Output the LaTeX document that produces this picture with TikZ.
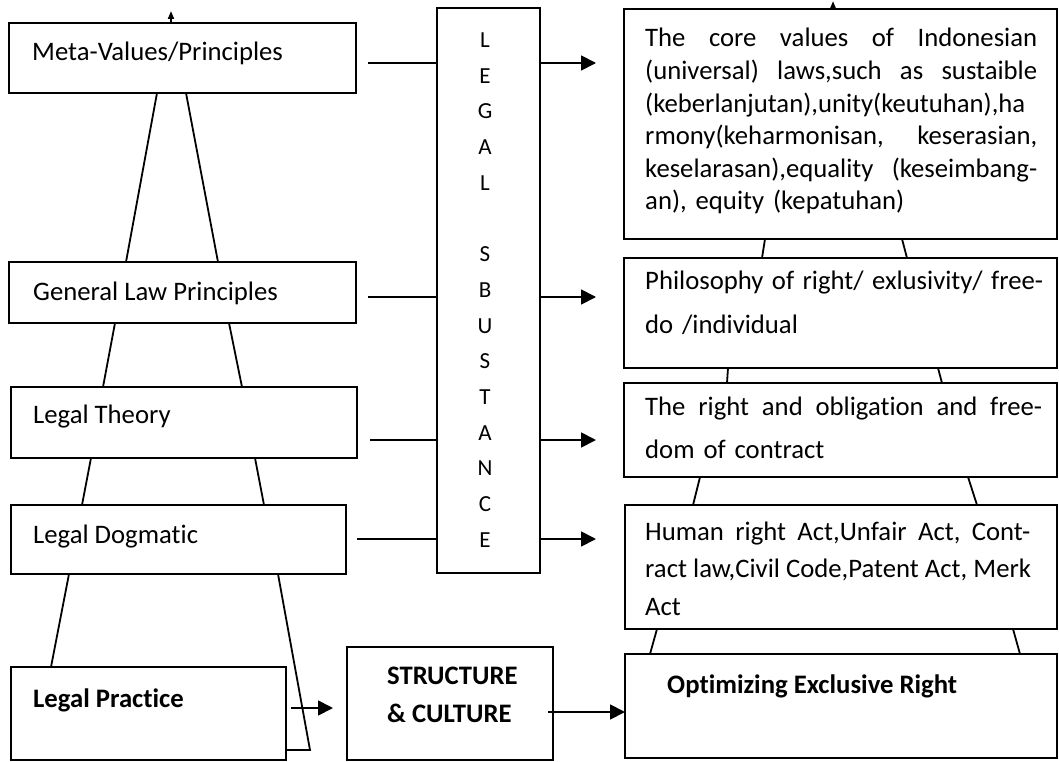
\documentclass[tikz,border=0pt]{standalone}
\usepackage{fontspec}
\setmainfont{Carlito}[Ligatures=NoCommon]
\usetikzlibrary{arrows.meta}
\newcommand{\jline}[2][392pt]{\leavevmode\hbox to #1{\frenchspacing\spaceskip=.23em plus 1fil\relax #2}}
\begin{document}
\begin{tikzpicture}[x=1pt,y=-1pt,
                box/.style={draw,line width=1.8pt,anchor=north west,inner sep=0pt,outer sep=0pt},
                pyr/.style={line width=1.8pt},
                arr/.style={line width=1.8pt,-{Triangle[length=15pt,width=15pt]}},
                lbl/.style={anchor=base west,inner sep=0pt,font=\fontsize{26.7}{32.6}\selectfont},
                lblb/.style={lbl,font=\fontsize{26.7}{38}\selectfont\bfseries},
                para/.style={lbl,align=left},
                letter/.style={anchor=base,inner sep=0pt,font=\fontsize{23}{28}\selectfont}]
                \useasboundingbox (0,0) rectangle (1059,762);
                % left column
                \node[box,minimum width=347pt,minimum height=70pt] (meta) at (9,23) {};
                \node[box,minimum width=347pt,minimum height=61pt] (gen) at (9,262) {};
                \node[box,minimum width=346pt,minimum height=71pt] (theory) at (11,387) {};
                \node[box,minimum width=335pt,minimum height=69pt] (dogma) at (11,505) {};
                \node[box,minimum width=275pt,minimum height=93pt] (practice) at (11,667) {};
                \node[lbl] (metaT) at (32,60.5) {Meta-Values/Principles};
                \node[lbl] (genT) at (33,300) {General Law Principles};
                \node[lbl] (theoryT) at (33,423) {Legal Theory};
                \node[lbl] (dogmaT) at (33,543) {Legal Dogmatic};
                \node[lblb] (practiceT) at (33,707) {Legal Practice};
                \draw[pyr] (157,0 |- meta.south) -- (126,0 |- gen.north);
                \draw[pyr] (186,0 |- meta.south) -- (218,0 |- gen.north);
                \draw[pyr] (115,0 |- gen.south) -- (103,0 |- theory.north);
                \draw[pyr] (229,0 |- gen.south) -- (242,0 |- theory.north);
                \draw[pyr] (91,0 |- theory.south) -- (82,0 |- dogma.north);
                \draw[pyr] (255,0 |- theory.south) -- (264,0 |- dogma.north);
                \draw[pyr] (69,0 |- dogma.south) -- (51,0 |- practice.north);
                \draw[pyr] (278,0 |- dogma.south) -- (310,750) -- (practice.east |- 0,750);
                \draw[pyr,-{Triangle[length=8pt,width=6pt]}] (171,0 |- meta.north) -- (171,11);
                % middle
                \node[box,minimum width=103pt,minimum height=565pt] (sub) at (437,8) {};
                \foreach \ch [count=\i from 0] in {L,E,G,A,L}
                    \node[letter] (leg\i) at (485,{47.5+35.7*\i}) {\ch};
                \foreach \ch [count=\i from 6] in {S,B,U,S,T,A,N,C,E}
                    \node[letter] (leg\i) at (485,{47.5+35.7*\i}) {\ch};
                \node[box,minimum width=206pt,minimum height=113pt] (struct) at (347,647) {};
                \node[lblb,align=left] (structT) at (387,722) {STRUCTURE\\\& CULTURE};
                % right column
                \node[box,minimum width=433pt,minimum height=230pt] (core) at (624,9) {};
                \node[box,minimum width=433pt,minimum height=110pt] (phil) at (624,258) {};
                \node[box,minimum width=433pt,minimum height=94pt] (right) at (624,383) {};
                \node[box,minimum width=432pt,minimum height=124pt] (act) at (625,505) {};
                \node[box,minimum width=432pt,minimum height=104pt] (opt) at (625,654) {};
                \node[para,text width=392pt] (coreT) at (645,47) {\jline{The core values of Indonesian}\\
                    \jline{(universal) laws,such as sustaible}\\
                    \jline{(keberlanjutan),unity(keutuhan),ha}\\
                    \jline{rmony(keharmonisan, keserasian,}\\
                    \jline{keselarasan),equality (keseimbang-}\\
                    an), equity (kepatuhan)};
                \node[para,text width=398pt,font=\fontsize{26.7}{44}\selectfont] (philT) at (645,289) {\jline[398pt]{Philosophy of right/ exlusivity/ free-}\\
                    do /individual};
                \node[para,text width=397pt,font=\fontsize{26.7}{43}\selectfont] (rightT) at (645,415) {\jline[397pt]{The right and obligation and free-}\\
                    dom of contract};
                \node[para,text width=385pt,font=\fontsize{26.7}{37.5}\selectfont] (actT) at (645,540) {\jline[385pt]{Human right Act,Unfair Act, Cont-}\\
                    \jline[383pt]{ract law,Civil Code,Patent Act, Merk}\\
                    Act};
                \node[lblb] (optT) at (667,693) {Optimizing Exclusive Right};
                \draw[pyr] (765,0 |- core.south) -- (762,0 |- phil.north);
                \draw[pyr] (902,0 |- core.south) -- (907,0 |- phil.north);
                \draw[pyr] (728,0 |- phil.south) -- (727,0 |- right.north);
                \draw[pyr] (938,0 |- phil.south) -- (942,0 |- right.north);
                \draw[pyr] (700,0 |- right.south) -- (693,0 |- act.north);
                \draw[pyr] (968,0 |- right.south) -- (977,0 |- act.north);
                \draw[pyr] (657,0 |- act.south) -- (650,0 |- opt.north);
                \draw[pyr] (1013,0 |- act.south) -- (1020,0 |- opt.north);
                \draw[pyr,-{Triangle[length=7pt,width=5pt]}] (833,0 |- core.north) -- (833,1);
                % connectors
                \draw[pyr,shorten <=12pt] (meta.east |- 0,63) -- (sub.west |- 0,63);
                \draw[pyr,shorten <=12pt] (gen.east |- 0,297) -- (sub.west |- 0,297);
                \draw[pyr,shorten <=13pt] (theory.east |- 0,440) -- (sub.west |- 0,440);
                \draw[pyr,shorten <=11pt] (dogma.east |- 0,539) -- (sub.west |- 0,539);
                \draw[arr,shorten >=28pt] (sub.east |- 0,63) -- (core.west |- 0,63);
                \draw[arr,shorten >=28pt] (sub.east |- 0,297) -- (phil.west |- 0,297);
                \draw[arr,shorten >=28pt] (sub.east |- 0,440) -- (right.west |- 0,440);
                \draw[arr,shorten >=29pt] (sub.east |- 0,539) -- (act.west |- 0,539);
                \draw[arr,shorten <=5pt,shorten >=14pt] (practice.east |- 0,708) -- (struct.west |- 0,708);
                \draw[arr,shorten <=-5pt] (struct.east |- 0,712) -- (opt.west |- 0,712);
            \end{tikzpicture}
\end{document}
